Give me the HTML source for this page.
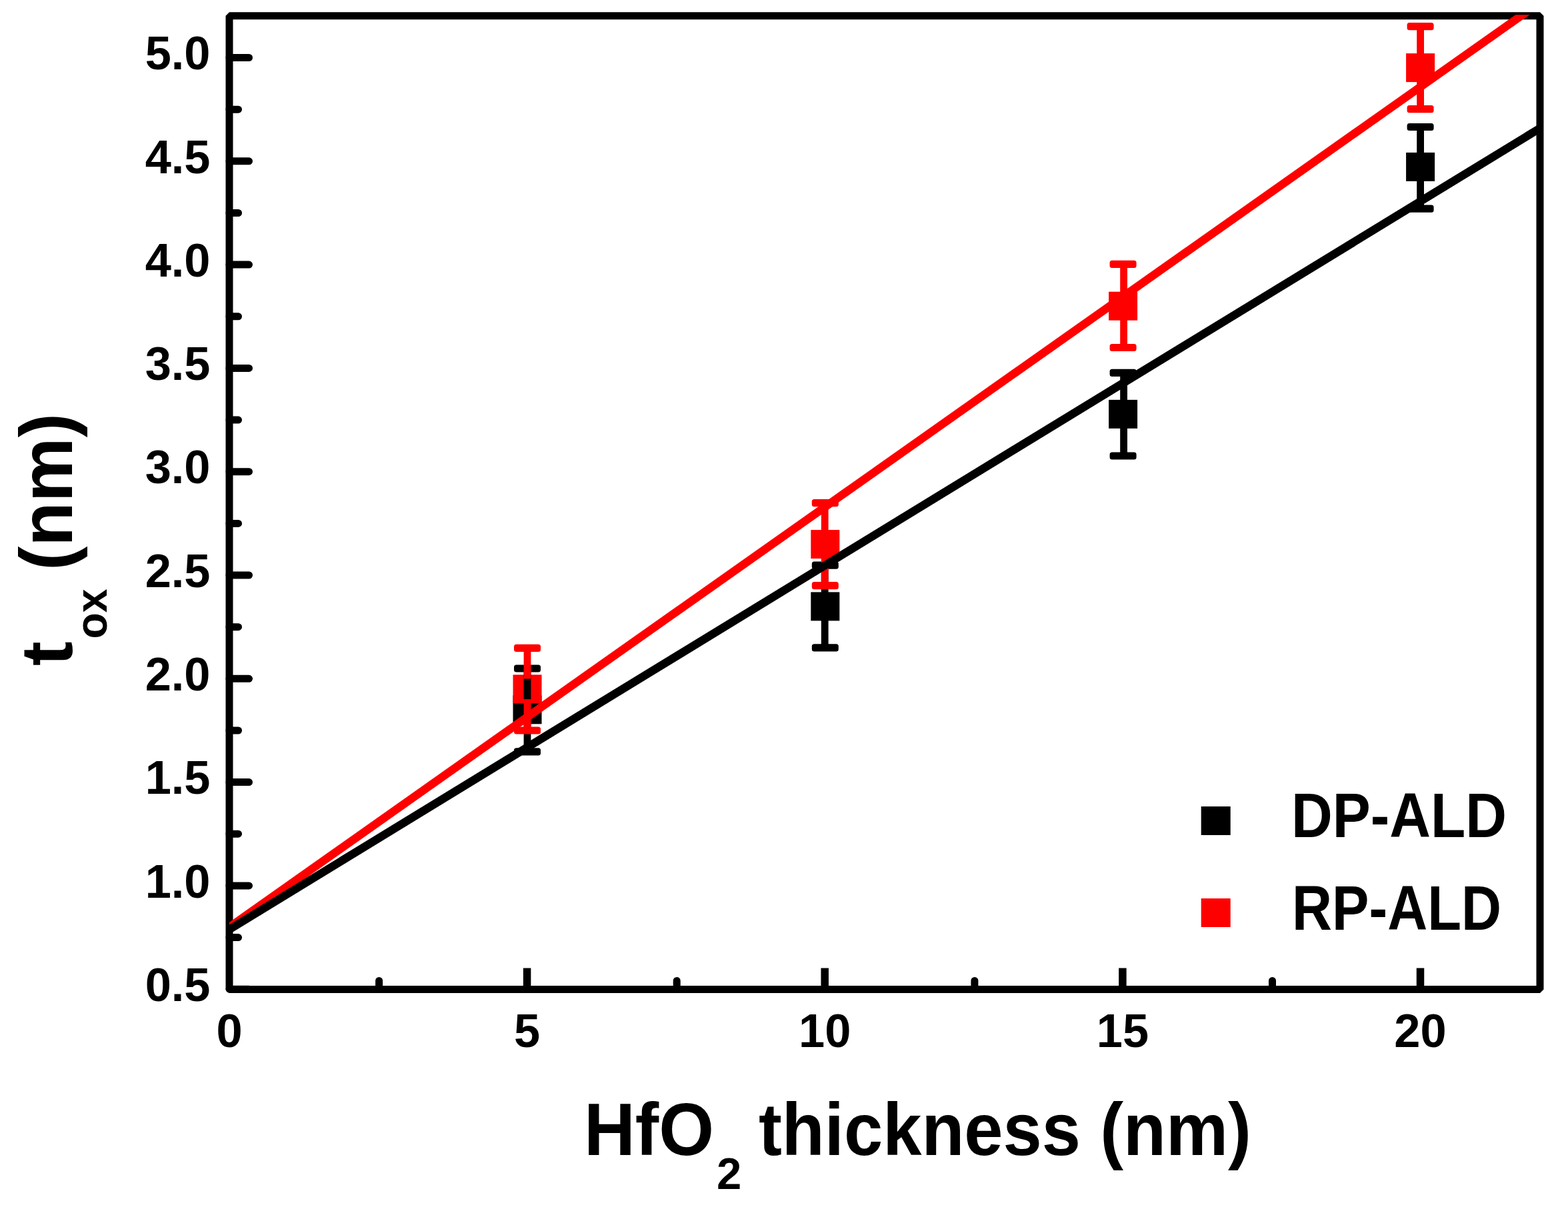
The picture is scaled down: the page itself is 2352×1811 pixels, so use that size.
<!DOCTYPE html>
<html><head><meta charset="utf-8"><title>HfO2 thickness vs tox</title>
<style>html,body{margin:0;padding:0;background:#fff;overflow:hidden;}svg{display:block;}</style>
</head><body>
<svg width="2352" height="1811" viewBox="0 0 2352 1811">
<rect width="100%" height="100%" fill="#fff"/>
<defs><clipPath id="pc"><rect x="344" y="22.3" width="1966" height="1462.1"/></clipPath></defs>
<path d="M344.0 1484.2H373.5 M344.0 1328.9H373.5 M344.0 1173.6H373.5 M344.0 1018.3H373.5 M344.0 863.0H373.5 M344.0 707.7H373.5 M344.0 552.4H373.5 M344.0 397.1H373.5 M344.0 241.8H373.5 M344.0 86.5H373.5 M344.0 1406.6H357.5 M344.0 1251.2H357.5 M344.0 1096.0H357.5 M344.0 940.7H357.5 M344.0 785.4H357.5 M344.0 630.1H357.5 M344.0 474.8H357.5 M344.0 319.5H357.5 M344.0 164.2H357.5 M568.6 1484.4V1471.5 M1015.2 1484.4V1471.5 M1461.9 1484.4V1471.5 M1908.5 1484.4V1471.5" stroke="#000" stroke-width="11" stroke-linecap="round" fill="none"/>
<path d="M790.6 1484.4V1452.5 M1237.2 1484.4V1452.5 M1683.9 1484.4V1452.5 M2130.5 1484.4V1452.5" stroke="#000" stroke-width="11.5" fill="none"/>
<rect x="344.0" y="23.8" width="1966.0" height="1460.6000000000001" fill="none" stroke="#000" stroke-width="11" stroke-linejoin="bevel"/>
<rect x="769.5" y="1043.3" width="43" height="43" fill="#000"/><rect x="1216.3" y="888.4" width="43" height="43" fill="#000"/><rect x="1663.1" y="599.9" width="43" height="43" fill="#000"/><rect x="2109.1" y="228.9" width="43" height="43" fill="#000"/>
<rect x="769.5" y="1012.4" width="43" height="43" fill="#f00"/><rect x="1216.3" y="795.1" width="43" height="43" fill="#f00"/><rect x="1663.1" y="437.7" width="43" height="43" fill="#f00"/><rect x="2109.1" y="80.1" width="43" height="43" fill="#f00"/>
<path d="M791.0 1049.3V1003.0M791.0 1080.3V1127.8M1237.2 894.4V848.2M1237.2 925.4V971.8M1685.6 605.9V559.4M1685.6 636.9V684.0M2130.6 234.9V190.5M2130.6 265.9V313.2" stroke="#000" stroke-width="10.8" fill="none"/><rect x="771.0" y="997.4" width="40" height="11.2" rx="3.5" fill="#000"/><rect x="771.0" y="1122.2" width="40" height="11.2" rx="3.5" fill="#000"/><rect x="1217.8" y="842.6" width="40" height="11.2" rx="3.5" fill="#000"/><rect x="1217.8" y="966.2" width="40" height="11.2" rx="3.5" fill="#000"/><rect x="1664.6" y="553.8" width="40" height="11.2" rx="3.5" fill="#000"/><rect x="1664.6" y="678.4" width="40" height="11.2" rx="3.5" fill="#000"/><rect x="2110.6" y="184.9" width="40" height="11.2" rx="3.5" fill="#000"/><rect x="2110.6" y="307.6" width="40" height="11.2" rx="3.5" fill="#000"/>
<path d="M791.0 1018.4V972.3M791.0 1049.4V1096.0M1237.2 801.1V754.6M1237.2 832.1V878.6M1685.6 443.7V396.4M1685.6 474.7V521.5M2130.6 86.1V39.7M2130.6 117.1V163.6" stroke="#f00" stroke-width="10.8" fill="none"/><rect x="771.0" y="966.7" width="40" height="11.2" rx="3.5" fill="#f00"/><rect x="771.0" y="1090.4" width="40" height="11.2" rx="3.5" fill="#f00"/><rect x="1217.8" y="749.0" width="40" height="11.2" rx="3.5" fill="#f00"/><rect x="1217.8" y="873.0" width="40" height="11.2" rx="3.5" fill="#f00"/><rect x="1664.6" y="390.8" width="40" height="11.2" rx="3.5" fill="#f00"/><rect x="1664.6" y="515.9" width="40" height="11.2" rx="3.5" fill="#f00"/><rect x="2110.6" y="34.1" width="40" height="11.2" rx="3.5" fill="#f00"/><rect x="2110.6" y="158.0" width="40" height="11.2" rx="3.5" fill="#f00"/>
<g clip-path="url(#pc)">
<line x1="344.0" y1="1391.2" x2="2310.0" y2="3.8" stroke="#f00" stroke-width="12.3"/>
<line x1="344.0" y1="1394.6" x2="2310.0" y2="192.4" stroke="#000" stroke-width="12.3"/>
</g>
<text x="315.5" y="1501.9" font-family="Liberation Sans, sans-serif" font-weight="bold" font-size="70.4" text-anchor="end">0.5</text>
<text x="315.5" y="1346.6" font-family="Liberation Sans, sans-serif" font-weight="bold" font-size="70.4" text-anchor="end">1.0</text>
<text x="315.5" y="1191.3" font-family="Liberation Sans, sans-serif" font-weight="bold" font-size="70.4" text-anchor="end">1.5</text>
<text x="315.5" y="1036.0" font-family="Liberation Sans, sans-serif" font-weight="bold" font-size="70.4" text-anchor="end">2.0</text>
<text x="315.5" y="880.7" font-family="Liberation Sans, sans-serif" font-weight="bold" font-size="70.4" text-anchor="end">2.5</text>
<text x="315.5" y="725.4" font-family="Liberation Sans, sans-serif" font-weight="bold" font-size="70.4" text-anchor="end">3.0</text>
<text x="315.5" y="570.1" font-family="Liberation Sans, sans-serif" font-weight="bold" font-size="70.4" text-anchor="end">3.5</text>
<text x="315.5" y="414.8" font-family="Liberation Sans, sans-serif" font-weight="bold" font-size="70.4" text-anchor="end">4.0</text>
<text x="315.5" y="259.5" font-family="Liberation Sans, sans-serif" font-weight="bold" font-size="70.4" text-anchor="end">4.5</text>
<text x="315.5" y="104.2" font-family="Liberation Sans, sans-serif" font-weight="bold" font-size="70.4" text-anchor="end">5.0</text>
<text x="344.0" y="1570.5" font-family="Liberation Sans, sans-serif" font-weight="bold" font-size="70.4" text-anchor="middle">0</text>
<text x="790.6" y="1570.5" font-family="Liberation Sans, sans-serif" font-weight="bold" font-size="70.4" text-anchor="middle">5</text>
<text x="1237.2" y="1570.5" font-family="Liberation Sans, sans-serif" font-weight="bold" font-size="70.4" text-anchor="middle">10</text>
<text x="1683.9" y="1570.5" font-family="Liberation Sans, sans-serif" font-weight="bold" font-size="70.4" text-anchor="middle">15</text>
<text x="2130.5" y="1570.5" font-family="Liberation Sans, sans-serif" font-weight="bold" font-size="70.4" text-anchor="middle">20</text>
<text x="876" y="1732.6" font-family="Liberation Sans, sans-serif" font-weight="bold" font-size="112" textLength="195" lengthAdjust="spacingAndGlyphs">HfO</text>
<text x="1075" y="1784" font-family="Liberation Sans, sans-serif" font-weight="bold" font-size="67">2</text>
<text x="1138" y="1732.6" font-family="Liberation Sans, sans-serif" font-weight="bold" font-size="112" textLength="739" lengthAdjust="spacingAndGlyphs">thickness (nm)</text>
<g transform="translate(107.5 999) rotate(-90)"><text x="0" y="0" font-family="Liberation Sans, sans-serif" font-weight="bold" font-size="110">t</text><text x="40.5" y="52" font-family="Liberation Sans, sans-serif" font-weight="bold" font-size="67" textLength="75" lengthAdjust="spacingAndGlyphs">ox</text><text x="143" y="0" font-family="Liberation Sans, sans-serif" font-weight="bold" font-size="112" textLength="236" lengthAdjust="spacingAndGlyphs">(nm)</text></g>
<rect x="1801.7" y="1210" width="44" height="43" fill="#000"/>
<rect x="1801.7" y="1348" width="44" height="43" fill="#f00"/>
<text x="1937" y="1255.7" font-family="Liberation Sans, sans-serif" font-weight="bold" font-size="95.4" textLength="323" lengthAdjust="spacingAndGlyphs">DP-ALD</text>
<text x="1938" y="1395.3" font-family="Liberation Sans, sans-serif" font-weight="bold" font-size="95.4" textLength="314" lengthAdjust="spacingAndGlyphs">RP-ALD</text>
</svg>
</body></html>
